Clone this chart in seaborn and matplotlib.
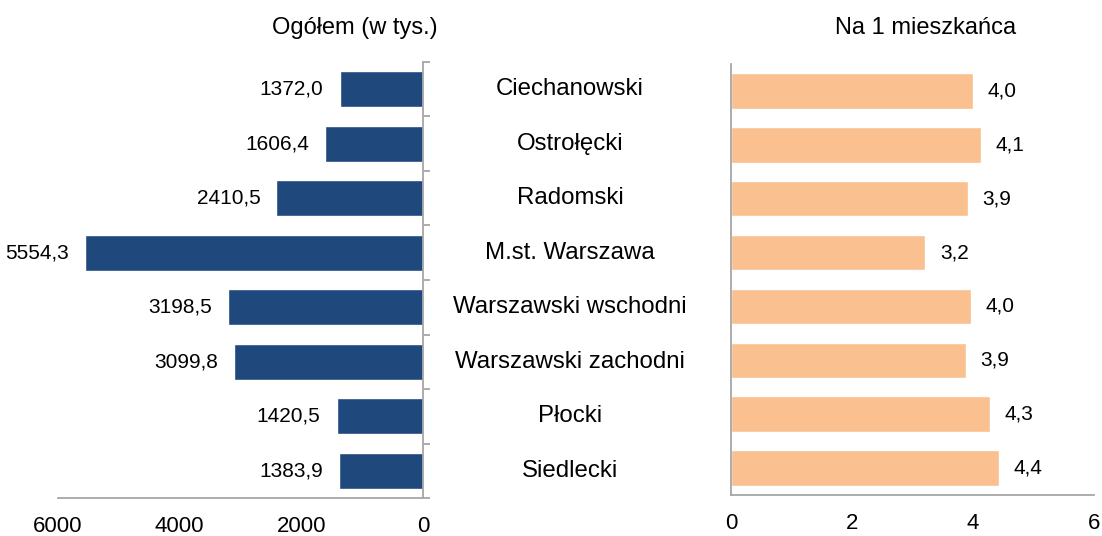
import matplotlib
matplotlib.use("Agg")
import matplotlib.pyplot as plt
import matplotlib.transforms as mtransforms
import seaborn as sns
import pandas as pd
import numpy as np

categories = ["Ciechanowski", "Ostrołęcki", "Radomski", "M.st. Warszawa",
              "Warszawski wschodni", "Warszawski zachodni", "Płocki", "Siedlecki"]
total_values = [1372.0, 1606.4, 2410.5, 5554.3, 3198.5, 3099.8, 1420.5, 1383.9]
per_capita_values = [4.00, 4.13, 3.92, 3.21, 3.97, 3.88, 4.28, 4.43]
left_ticks = [6000, 4000, 2000, 0]
right_ticks = [0, 2, 4, 6]
title_left = "Ogółem (w tys.)"
title_right = "Na 1 mieszkańca"

sns.set_style("white")
plt.rcParams['font.family'] = ['Liberation Sans', 'DejaVu Sans']
plt.rcParams['text.color'] = 'black'

df = pd.DataFrame({"cat": categories, "total": total_values, "pc": per_capita_values})

W, H = 1102, 536
fig = plt.figure(figsize=(W / 100, H / 100), dpi=100)
ax1 = fig.add_axes([58 / W, 1 - 498 / H, (423 - 58) / W, (498 - 62) / H])
ax2 = fig.add_axes([731 / W, 1 - 495 / H, (1094 - 731) / W, (495 - 64) / H])

navy = "#1F497D"
peach = "#FAC090"
spine_c = "#A6A6A6"

sns.barplot(data=df, y="cat", x="total", orient="h", color=navy, width=0.66,
            saturation=1, ax=ax1)
sns.barplot(data=df, y="cat", x="pc", orient="h", color=peach, width=0.66,
            saturation=1, ax=ax2)

for ax in (ax1, ax2):
    ax.set_xlabel("")
    ax.set_ylabel("")
    ax.set_ylim(len(categories) - 0.5, -0.5)
    ax.set_yticks(np.arange(len(categories) + 1) - 0.5)
    ax.set_yticklabels([])
    for s in ax.spines.values():
        s.set_color(spine_c)
        s.set_linewidth(1.3)
    ax.spines['top'].set_visible(False)
    ax.tick_params(axis='both', direction='out', length=5, width=1.3, color=spine_c,
                   labelsize=16, labelcolor="black")
    ax.tick_params(axis='x', pad=8)

ax1.set_xlim(6000, 0)
ax1.set_xticks(left_ticks)
ax1.set_xticklabels([str(t) for t in left_ticks])
ax1.spines['left'].set_visible(False)
ax1.yaxis.tick_right()

ax2.set_xlim(0, 6)
ax2.set_xticks(right_ticks)
ax2.set_xticklabels([str(t) for t in right_ticks])
ax2.spines['right'].set_visible(False)

def fmt(v):
    return f"{v:.1f}".replace(".", ",")

for i, v in enumerate(total_values):
    ax1.annotate(fmt(v), xy=(v, i), xytext=(-11.5, 0), textcoords="offset points",
                 ha="right", va="center", fontsize=15, color="black")
for i, v in enumerate(per_capita_values):
    ax2.annotate(fmt(v), xy=(v, i), xytext=(10.5, 0), textcoords="offset points",
                 ha="left", va="center", fontsize=15, color="black")

tr = mtransforms.blended_transform_factory(fig.transFigure, ax1.transData)
for i, c in enumerate(categories):
    fig.text(570 / W, i, c, transform=tr, ha="center", va="center", fontsize=17.3,
             color="black")

fig.text(355 / W, 1 - 28 / H, title_left, ha="center", va="center", fontsize=17,
         color="black")
fig.text(926 / W, 1 - 28 / H, title_right, ha="center", va="center", fontsize=17,
         color="black")

fig.savefig("out.png", dpi=100)
